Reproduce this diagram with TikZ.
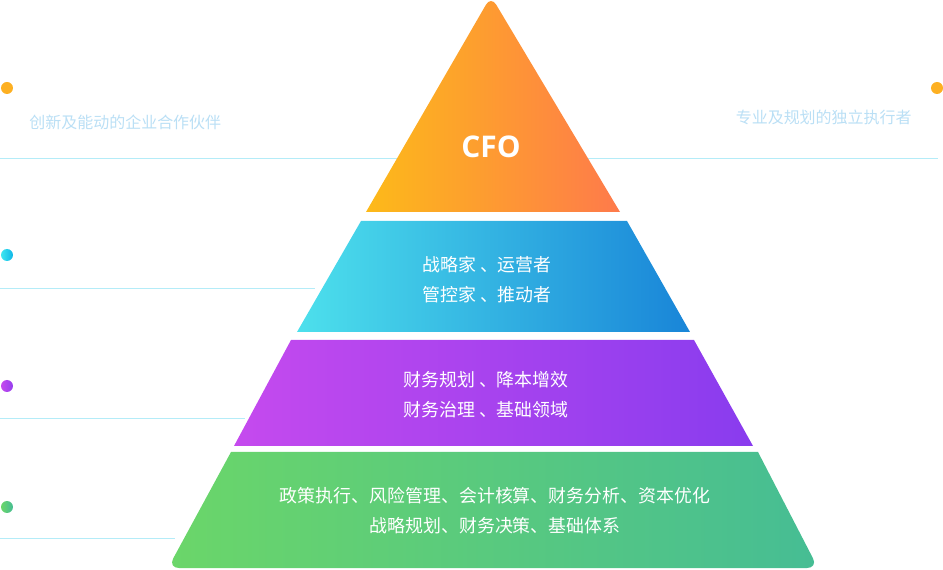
\documentclass[tikz,border=0pt]{standalone}
\usepackage{fontspec}
\newfontfamily\cjk{Noto Sans CJK SC}
\newfontfamily\cfofont{Open Sans}
\usepackage{tikz}
\usetikzlibrary{positioning}
\definecolor{guide}{HTML}{B4ECF8}
\definecolor{notetext}{HTML}{BADFF5}
\definecolor{cfoL}{HTML}{FDBA19}
\definecolor{cfoR}{HTML}{FE7A4B}
\definecolor{mgrL}{HTML}{4DE0EC}
\definecolor{mgrR}{HTML}{1985D8}
\definecolor{finL}{HTML}{C54AEE}
\definecolor{finR}{HTML}{893CEE}
\definecolor{opsL}{HTML}{6BD669}
\definecolor{opsR}{HTML}{46BD94}
\definecolor{dotO}{HTML}{FDB022}

\begin{document}
\begin{tikzpicture}[x=0.02cm,y=-0.02cm,
        guideline/.style={guide,line width=0.55pt},
        sidenote/.style={font=\cjk\fontsize{9.1}{11}\selectfont,text=notetext,inner sep=0pt},
        bandtext/.style={font=\cjk\fontsize{10.2}{17}\selectfont,text=white,align=center,inner sep=0pt}]
    \useasboundingbox (0,0) rectangle (943,570);
        \draw[guideline] (0,158) -- (938,158);
        \draw[guideline] (0,288) -- (315,288);
        \draw[guideline] (0,418) -- (245,418);
        \draw[guideline] (0,538) -- (175,538);
        \shade[left color=cfoL,right color=cfoR] (366,212) [rounded corners=0.2cm] -- (491,-4) [sharp corners] -- (620,212) -- cycle;
        \shade[left color=mgrL,right color=mgrR] (361,221) -- (627,221) -- (690,332) -- (297,332) -- cycle;
        \shade[left color=finL,right color=finR] (291,340) -- (694,340) -- (753,446) -- (234,446) -- cycle;
        \shade[left color=opsL,right color=opsR] (231,452) -- (758,452) [rounded corners=0.22cm] -- (818,568) -- (168,568) [sharp corners] -- cycle;
        \fill[dotO] (7,88) circle (0.12cm);
        \fill[dotO] (937,88) circle (0.12cm);
        \shade[left color=mgrL!80!cyan,right color=mgrR!60!cyan] (7,255) circle (0.12cm);
        \shade[left color=finL,right color=finR!80!finL] (7,386) circle (0.12cm);
        \shade[left color=opsL,right color=opsR] (7,507) circle (0.12cm);
        \node[sidenote,anchor=west] (leftnote) at (29,122) {创新及能动的企业合作伙伴};
        \node[sidenote,anchor=east] (rightnote) at (912,117) {专业及规划的独立执行者};
        \node[font=\cfofont\bfseries\fontsize{17}{20}\selectfont,text=white] (cfo) at (491,147) {CFO};
        \node[bandtext] (mgr) at (487,280) {战略家 、运营者\\管控家 、推动者};
        \node[bandtext] (fin) at (486,395) {财务规划 、降本增效\\财务治理 、基础领域};
        \node[bandtext] (ops) at (495,511) {政策执行、风险管理、会计核算、财务分析、资本优化\\战略规划、财务决策、基础体系};
    \end{tikzpicture}
\end{document}
